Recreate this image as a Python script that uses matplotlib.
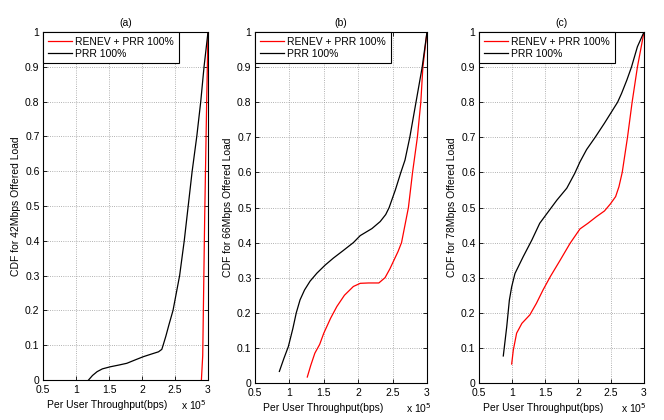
import matplotlib
matplotlib.use("Agg")
import matplotlib.pyplot as plt

plt.rcParams['font.family'] = ['Liberation Sans', 'DejaVu Sans']

# Throughput in units of 1e5 bps
a_black_x = [1.19, 1.25, 1.32, 1.40, 1.52, 1.65, 1.77, 1.90, 2.02, 2.15, 2.25, 2.30, 2.32, 2.36, 2.41, 2.47, 2.52, 2.57, 2.64, 2.70, 2.76, 2.83, 2.89, 2.94, 2.97, 3.00]
a_black_y = [0.0, 0.013, 0.024, 0.032, 0.038, 0.043, 0.048, 0.058, 0.067, 0.075, 0.081, 0.088, 0.10, 0.125, 0.16, 0.20, 0.25, 0.30, 0.40, 0.50, 0.60, 0.70, 0.80, 0.90, 0.95, 1.0]
a_red_x = [2.90, 2.92, 2.95, 2.98, 3.00]
a_red_y = [0.0, 0.07, 0.47, 0.80, 1.0]

b_black_x = [0.854, 0.92, 0.985, 1.05, 1.10, 1.155, 1.22, 1.30, 1.40, 1.52, 1.64, 1.78, 1.93, 2.03, 2.20, 2.32, 2.40, 2.45, 2.54, 2.62, 2.68, 2.75, 2.84, 2.93, 3.00]
b_black_y = [0.033, 0.07, 0.104, 0.155, 0.20, 0.237, 0.265, 0.29, 0.313, 0.336, 0.356, 0.377, 0.40, 0.42, 0.44, 0.46, 0.48, 0.50, 0.55, 0.60, 0.635, 0.70, 0.80, 0.90, 1.0]
b_red_x = [1.26, 1.31, 1.37, 1.44, 1.50, 1.60, 1.69, 1.80, 1.93, 2.03, 2.15, 2.30, 2.39, 2.46, 2.52, 2.58, 2.63, 2.68, 2.73, 2.76, 2.79, 2.86, 2.91, 2.94, 3.00]
b_red_y = [0.017, 0.05, 0.085, 0.11, 0.142, 0.185, 0.218, 0.25, 0.275, 0.284, 0.285, 0.285, 0.30, 0.325, 0.35, 0.375, 0.40, 0.45, 0.50, 0.55, 0.60, 0.70, 0.80, 0.90, 1.0]

c_black_x = [0.868, 0.92, 0.96, 0.995, 1.045, 1.17, 1.30, 1.42, 1.53, 1.68, 1.83, 1.95, 2.03, 2.13, 2.26, 2.40, 2.50, 2.60, 2.66, 2.74, 2.81, 2.90, 3.00]
c_black_y = [0.077, 0.16, 0.236, 0.274, 0.312, 0.36, 0.407, 0.455, 0.483, 0.521, 0.555, 0.597, 0.63, 0.665, 0.70, 0.74, 0.77, 0.80, 0.825, 0.863, 0.90, 0.958, 1.0]
c_red_x = [0.995, 1.02, 1.07, 1.15, 1.27, 1.37, 1.47, 1.58, 1.73, 1.88, 2.03, 2.15, 2.28, 2.40, 2.49, 2.57, 2.62, 2.67, 2.75, 2.82, 2.90, 3.00]
c_red_y = [0.054, 0.094, 0.142, 0.17, 0.194, 0.227, 0.265, 0.303, 0.35, 0.398, 0.439, 0.455, 0.474, 0.49, 0.51, 0.531, 0.559, 0.60, 0.70, 0.80, 0.90, 1.0]

titles = ['(a)', '(b)', '(c)']
ylabels = ['CDF for 42Mbps Offered Load', 'CDF for 66Mbps Offered Load', 'CDF for 78Mbps Offered Load']
legend_labels = ['RENEV + PRR 100%', 'PRR 100%']
xlabel = 'Per User Throughput(bps)'
xticks = [0.5, 1, 1.5, 2, 2.5, 3]
xticklabels = ['0.5', '1', '1.5', '2', '2.5', '3']
yticks = [0, 0.1, 0.2, 0.3, 0.4, 0.5, 0.6, 0.7, 0.8, 0.9, 1]
yticklabels = ['0', '0.1', '0.2', '0.3', '0.4', '0.5', '0.6', '0.7', '0.8', '0.9', '1']

series = [
    (a_red_x, a_red_y, a_black_x, a_black_y),
    (b_red_x, b_red_y, b_black_x, b_black_y),
    (c_red_x, c_red_y, c_black_x, c_black_y),
]

W, H = 664, 420
FS = 7.5
fig = plt.figure(figsize=(W / 100, H / 100), dpi=100)
# pixel boxes: left, right, top, bottom
boxes = [(43, 208, 32, 380), (255, 427, 32, 383), (479, 644, 32, 383)]
exp_offsets = [14, 8, 10]  # px left of right spine for the "x 10^5" label

for i, (box, s) in enumerate(zip(boxes, series)):
    l, r, t, b = box
    w_px, h_px = r - l, b - t
    ax = fig.add_axes([l / W, 1 - b / H, w_px / W, h_px / H])
    rx, ry, kx, ky = s
    ax.plot(rx, ry, color='#ff0000', lw=0.9, label=legend_labels[0])
    ax.plot(kx, ky, color='#000000', lw=0.9, label=legend_labels[1])
    ax.set_xlim(0.5, 3)
    ax.set_ylim(0, 1)
    ax.set_xticks(xticks)
    ax.set_xticklabels(xticklabels)
    ax.set_yticks(yticks)
    ax.set_yticklabels(yticklabels)
    ax.tick_params(direction='in', top=True, right=True, length=3, width=0.6,
                   labelsize=FS, colors='black')
    ax.tick_params(axis='x', pad=3.5)
    ax.tick_params(axis='y', pad=2.5)
    ax.grid(True, linestyle=':', color='#999999', lw=0.6)
    for sp in ax.spines.values():
        sp.set_linewidth(0.8)
    ax.set_title(titles[i], fontsize=FS, pad=4)
    ax.set_ylabel(ylabels[i], fontsize=FS, labelpad=3)
    ax.set_xlabel(xlabel, fontsize=FS)
    ax.xaxis.set_label_coords(0.5 - 18 / w_px, -20 / h_px)
    ax.text(1.0 - exp_offsets[i] / w_px, -25 / h_px, r'x 10$^5$',
            transform=ax.transAxes, fontsize=FS, ha='center', va='center')
    leg = ax.legend(loc='upper left', borderaxespad=0, fontsize=FS,
                    fancybox=False, framealpha=1, edgecolor='black',
                    handlelength=2.3, handletextpad=0.35, borderpad=0.45,
                    labelspacing=0.2)
    leg.get_frame().set_linewidth(0.8)

fig.savefig('out.png', dpi=100)
